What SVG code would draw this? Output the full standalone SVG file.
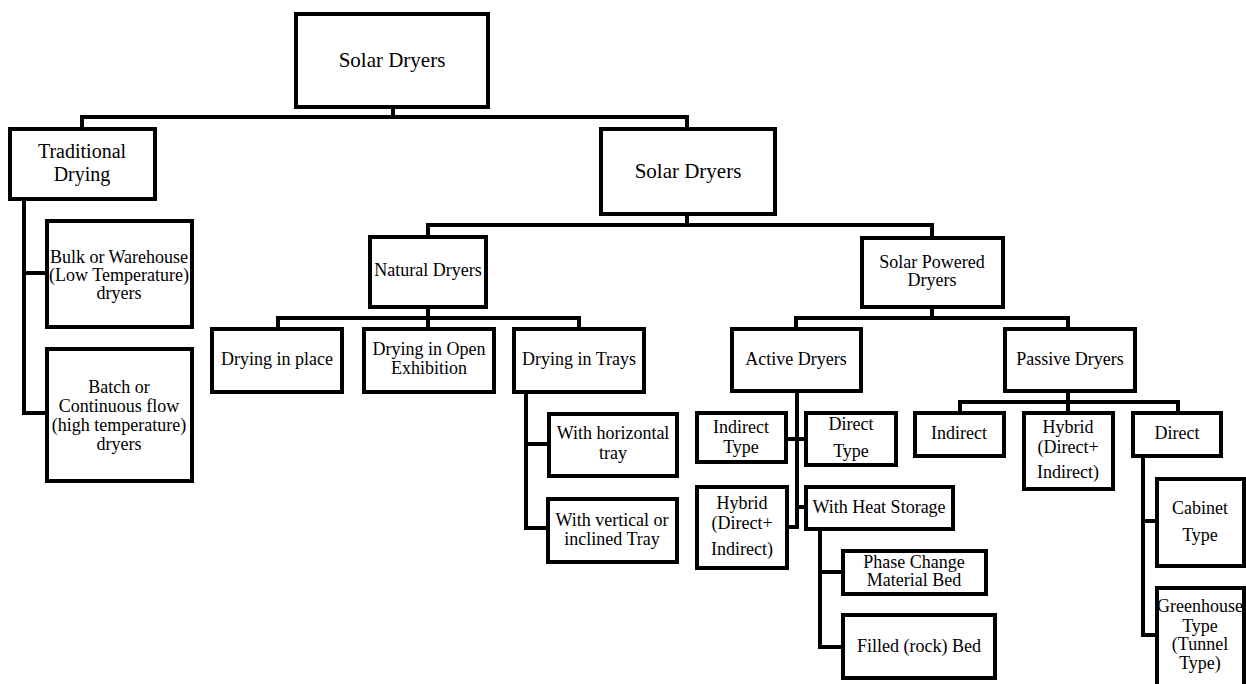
<svg xmlns="http://www.w3.org/2000/svg" width="1246" height="684" viewBox="0 0 1246 684">
<style>
.box{fill:#fff;stroke:#000;stroke-width:4}
.c{fill:none;stroke:#000;stroke-width:4;stroke-linejoin:miter}
text{font-size:18px;fill:#000;text-anchor:middle}
.big{font-size:21px}
.mid{font-size:20px}
</style>
<rect width="1246" height="684" fill="#fff"/>
<g id="connectors">
<path class="c" d="M393 109V117M82 129V117H687V129"/>
<path class="c" d="M24 199V413H47M24 273H47"/>
<path class="c" d="M687 214V225M428 237V225H932V238"/>
<path class="c" d="M428 307V318M278 329V318H579V329M428 318V329"/>
<path class="c" d="M526 392V528H548M526 444H549"/>
<path class="c" d="M932 307V318M796 329V318H1068V329"/>
<path class="c" d="M797 391V527H787M786 439H806M797 507H806"/>
<path class="c" d="M820 529V647H843M820 572H843"/>
<path class="c" d="M1068 391V413M960 413V402H1178V413"/>
<path class="c" d="M1143 456V635H1157M1143 521H1157"/>
</g>
<g font-family="Liberation Serif, serif">
<g id="root"><rect class="box" x="296" y="14" width="192" height="93"/><text class="big" x="392" y="67">Solar Dryers</text></g>
<g id="traditional"><rect class="box" x="10" y="129" width="145" height="70"/><text class="mid" x="82" y="158">Traditional</text><text class="mid" x="82" y="181">Drying</text></g>
<g id="solar2"><rect class="box" x="601" y="129" width="174" height="85"/><text class="big" x="688" y="178">Solar Dryers</text></g>
<g id="bulk"><rect class="box" x="47" y="221" width="145" height="106"/><text x="119" y="263">Bulk or Warehouse</text><text x="119" y="281">(Low Temperature)</text><text x="119" y="299">dryers</text></g>
<g id="batch"><rect class="box" x="47" y="349" width="145" height="132"/><text x="119" y="393">Batch or</text><text x="119" y="412">Continuous flow</text><text x="119" y="431">(high temperature)</text><text x="119" y="450">dryers</text></g>
<g id="natural"><rect class="box" x="370" y="237" width="116" height="70"/><text x="428" y="276">Natural Dryers</text></g>
<g id="solarpowered"><rect class="box" x="862" y="238" width="141" height="69"/><text x="932" y="268">Solar Powered</text><text x="932" y="286">Dryers</text></g>
<g id="place"><rect class="box" x="212" y="329" width="130" height="63"/><text x="277" y="365">Drying in place</text></g>
<g id="open"><rect class="box" x="364" y="329" width="130" height="63"/><text x="429" y="355">Drying in Open</text><text x="429" y="374">Exhibition</text></g>
<g id="trays"><rect class="box" x="514" y="329" width="130" height="63"/><text x="579" y="365">Drying in Trays</text></g>
<g id="horizontal"><rect class="box" x="549" y="414" width="128" height="62"/><text x="613" y="439">With horizontal</text><text x="613" y="459">tray</text></g>
<g id="vertical"><rect class="box" x="548" y="499" width="129" height="63"/><text x="612" y="526">With vertical or</text><text x="612" y="545">inclined Tray</text></g>
<g id="active"><rect class="box" x="732" y="329" width="129" height="62"/><text x="796" y="365">Active Dryers</text></g>
<g id="passive"><rect class="box" x="1005" y="329" width="130" height="62"/><text x="1070" y="365">Passive Dryers</text></g>
<g id="indirecttype"><rect class="box" x="697" y="413" width="89" height="49"/><text x="741" y="433">Indirect</text><text x="741" y="453">Type</text></g>
<g id="directtype"><rect class="box" x="806" y="413" width="90" height="52"/><text x="851" y="430">Direct</text><text x="851" y="457">Type</text></g>
<g id="hybridactive"><rect class="box" x="697" y="487" width="90" height="81"/><text x="742" y="509">Hybrid</text><text x="742" y="529">(Direct+</text><text x="742" y="555">Indirect)</text></g>
<g id="heatstorage"><rect class="box" x="806" y="487" width="147" height="42"/><text x="879" y="513">With Heat Storage</text></g>
<g id="phasechange"><rect class="box" x="843" y="551" width="143" height="43"/><text x="914" y="568">Phase Change</text><text x="914" y="586">Material Bed</text></g>
<g id="filled"><rect class="box" x="843" y="615" width="152" height="63"/><text x="919" y="652">Filled (rock) Bed</text></g>
<g id="indirectpassive"><rect class="box" x="915" y="413" width="89" height="43"/><text x="959" y="439">Indirect</text></g>
<g id="hybridpassive"><rect class="box" x="1024" y="413" width="89" height="76"/><text x="1068" y="433">Hybrid</text><text x="1068" y="453">(Direct+</text><text x="1068" y="478">Indirect)</text></g>
<g id="directpassive"><rect class="box" x="1133" y="413" width="88" height="43"/><text x="1177" y="439">Direct</text></g>
<g id="cabinet"><rect class="box" x="1157" y="479" width="87" height="87"/><text x="1200" y="514">Cabinet</text><text x="1200" y="541">Type</text></g>
<g id="greenhouse"><rect class="box" x="1157" y="588" width="87" height="100"/><text x="1200" y="612">Greenhouse</text><text x="1200" y="632">Type</text><text x="1200" y="650">(Tunnel</text><text x="1200" y="669">Type)</text></g>
</g>
</svg>
